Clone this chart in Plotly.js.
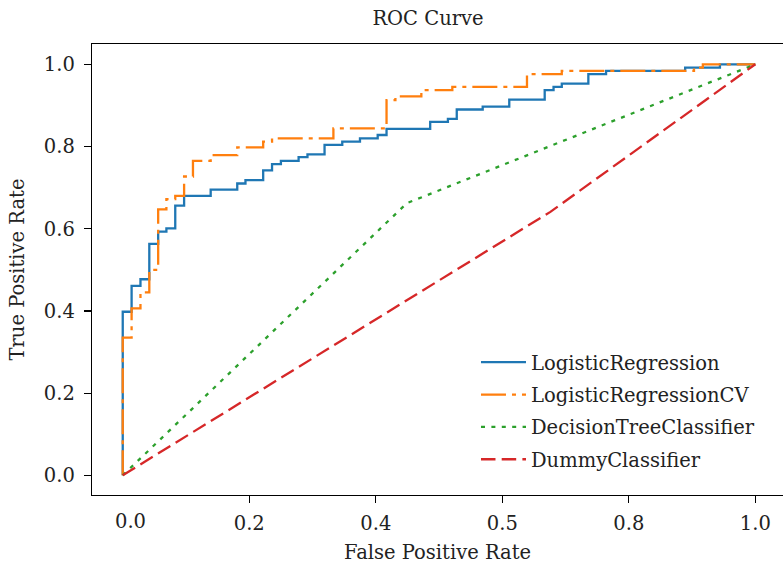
<!DOCTYPE html>
<html>
<head>
<meta charset="utf-8">
<script src="https://cdn.plot.ly/plotly-3.0.1.min.js"></script>
<style>html,body{margin:0;padding:0;background:#fff;}#chart{width:783px;height:564px;}</style>
</head>
<body>
<div id="chart"></div>
<script>
// ---- data ----
const seriesNames = ["LogisticRegression", "LogisticRegressionCV", "DecisionTreeClassifier", "DummyClassifier"];

const lrFpr = [0, 0, 0.014, 0.028, 0.042, 0.056, 0.069, 0.083, 0.097, 0.139, 0.181, 0.194, 0.222, 0.236, 0.250, 0.278, 0.292, 0.319, 0.347, 0.375, 0.403, 0.417, 0.486, 0.514, 0.528, 0.569, 0.611, 0.667, 0.681, 0.694, 0.736, 0.764, 0.889, 0.944, 1.0];
const lrTpr = [0, 0.398, 0.461, 0.477, 0.563, 0.593, 0.601, 0.656, 0.680, 0.695, 0.710, 0.718, 0.742, 0.757, 0.765, 0.774, 0.781, 0.804, 0.812, 0.820, 0.828, 0.843, 0.860, 0.867, 0.890, 0.897, 0.914, 0.937, 0.945, 0.953, 0.976, 0.984, 0.992, 1.0, 1.0];

const lrcvFpr = [0, 0, 0.014, 0.028, 0.042, 0.056, 0.069, 0.083, 0.097, 0.111, 0.139, 0.181, 0.222, 0.236, 0.333, 0.417, 0.431, 0.472, 0.521, 0.639, 0.694, 0.903, 0.917, 1.0];
const lrcvTpr = [0, 0.335, 0.406, 0.445, 0.500, 0.647, 0.672, 0.680, 0.727, 0.765, 0.779, 0.798, 0.812, 0.820, 0.844, 0.913, 0.922, 0.937, 0.945, 0.976, 0.984, 0.992, 1.0, 1.0];

const dtFpr = [0, 0.449, 1.0];
const dtTpr = [0, 0.662, 1.0];

const dummyFpr = [0, 0.676, 1.0];
const dummyTpr = [0, 0.641, 1.0];

const xTickVals = [0.0, 0.2, 0.4, 0.6, 0.8, 1.0];
const xTickText = ["0.0", "0.2", "0.4", "0.5", "0.8", "1.0"];
const yTickVals = [0.0, 0.2, 0.4, 0.6, 0.8, 1.0];
const yTickText = ["0.0", "0.2", "0.4", "0.6", "0.8", "1.0"];

// ---- styling ----
const FONT = "DejaVu Serif, serif";
const FS = 19.5;
const TXT = "#222222";
const colors = ["#1f77b4", "#ff7f0e", "#2ca02c", "#d62728"];
const dashes = ["solid", "25px,6px,4px,6px", "4px,6.4px", "14.5px,6.2px"];
const shapes = ["hv", "hv", "linear", "linear"];
const xs = [lrFpr, lrcvFpr, dtFpr, dummyFpr];
const ys = [lrTpr, lrcvTpr, dtTpr, dummyTpr];

const traces = seriesNames.map((n, i) => ({
  type: "scatter",
  mode: "lines",
  name: n,
  x: xs[i],
  y: ys[i],
  legendgroup: "g" + i,
  line: {color: colors[i], width: 2.3, dash: dashes[i], shape: shapes[i]},
  hoverinfo: "skip"
}));

const layout = {
  width: 783,
  height: 564,
  paper_bgcolor: "#ffffff",
  plot_bgcolor: "#ffffff",
  margin: {l: 92, r: 0, t: 44, b: 69, pad: 0},
  font: {family: FONT, size: FS, color: TXT},
  title: {
    text: "ROC Curve",
    font: {family: FONT, size: FS, color: TXT},
    x: 428 / 783, xanchor: "center",
    y: 1 - 18 / 564, yanchor: "middle"
  },
  xaxis: {
    range: [-0.0486, 1.0437],
    showgrid: false, zeroline: false,
    showline: true, mirror: true, linecolor: "#000", linewidth: 1.3,
    ticks: "outside", ticklen: 7, tickwidth: 1.2, tickcolor: "#000",
    tickvals: xTickVals.slice(1), ticktext: xTickText.slice(1),
    tickfont: {family: FONT, size: FS, color: TXT},
    ticklabelstandoff: 3,
    title: {text: "False Positive Rate", font: {family: FONT, size: FS, color: TXT}, standoff: 16},
    automargin: false,
    fixedrange: true
  },
  yaxis: {
    range: [-0.0479, 1.0494],
    showgrid: false, zeroline: false,
    showline: true, mirror: true, linecolor: "#000", linewidth: 1.3,
    ticks: "outside", ticklen: 7, tickwidth: 1.2, tickcolor: "#000",
    tickvals: yTickVals, ticktext: yTickText,
    tickfont: {family: FONT, size: FS, color: TXT},
    ticklabelstandoff: 5,
    title: {text: "True Positive Rate", font: {family: FONT, size: FS, color: TXT}, standoff: 14},
    automargin: false,
    fixedrange: true
  },
  annotations: [{
    xref: "x", yref: "paper",
    x: xTickVals[0], y: 0,
    text: xTickText[0],
    showarrow: false,
    yanchor: "top", xanchor: "center",
    yshift: -13, xshift: 8,
    font: {family: FONT, size: FS, color: TXT}
  }],
  showlegend: true,
  legend: {
    x: 0.5557, y: 0.337, xanchor: "left", yanchor: "top",
    bgcolor: "rgba(0,0,0,0)", borderwidth: 0,
    font: {family: FONT, size: FS, color: TXT},
    itemwidth: 45,
    tracegroupgap: 4,
    traceorder: "grouped"
  }
};

Plotly.newPlot("chart", traces, layout, {displayModeBar: false, staticPlot: true});
</script>
</body>
</html>
